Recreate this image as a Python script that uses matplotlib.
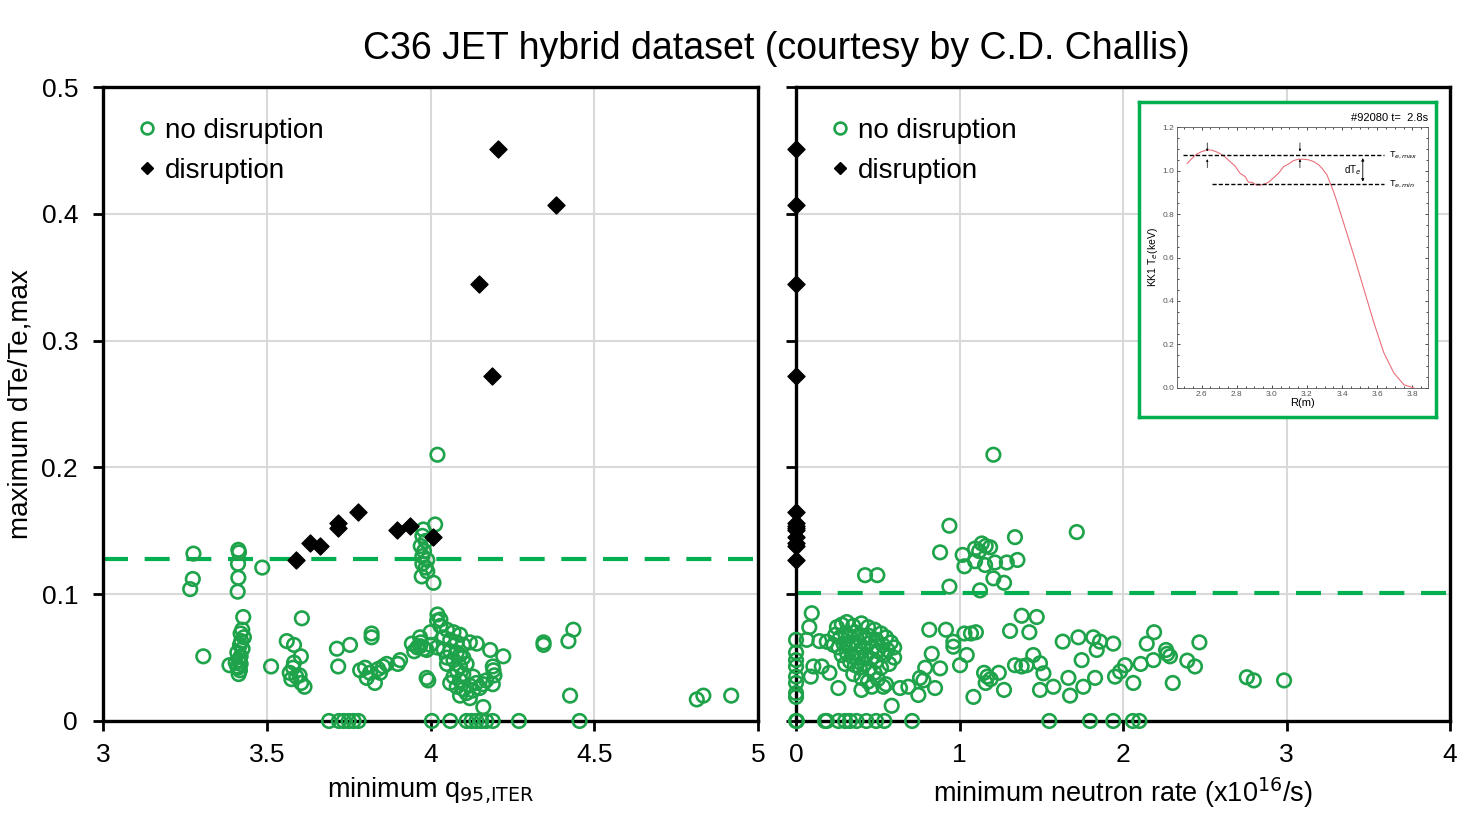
"""C36 JET hybrid dataset: dTe/Te,max vs q95 and neutron rate."""

import matplotlib
matplotlib.use("Agg")
import matplotlib.pyplot as plt
from matplotlib.lines import Line2D

plt.rcParams["font.family"] = ["Liberation Sans", "DejaVu Sans"]

GREEN = "#1ea34a"
DASH_GREEN = "#00b050"
GRID = "#d9d9d9"

# --- left panel: minimum q95,ITER ---
q95_ok = [
    3.276, 3.274, 3.266, 3.306,
    3.413, 3.415, 3.412, 3.413, 3.411, 3.428, 3.425, 3.420, 3.430, 3.422, 3.418, 3.426, 3.410,
    3.420, 3.415, 3.420, 3.412, 3.418, 3.414, 3.386, 3.405, 3.410, 3.486, 3.513,
    3.561, 3.583, 3.607, 3.604, 3.583, 3.570, 3.590, 3.600, 3.575, 3.605, 3.615, 3.580,
    3.714, 3.754, 3.718, 3.785, 3.815, 3.805, 3.830, 3.846, 3.855, 3.866, 3.900, 3.907,
    3.820, 3.820, 3.800, 3.840,
    3.690, 3.720, 3.735, 3.750, 3.765, 3.780,
    4.021, 4.014, 3.978, 3.975, 3.985, 3.970, 3.980, 3.975, 3.990, 3.975, 3.985, 3.990,
    3.973, 4.009,
    4.021, 4.020, 4.030, 4.050, 4.070, 4.090, 4.000, 4.040, 4.060, 4.080, 4.100, 3.943,
    3.960, 3.980, 3.950, 3.970, 4.000, 4.020, 4.040, 4.060, 4.080, 4.090, 4.100, 4.070,
    4.050, 4.110, 4.090, 4.080, 4.100, 4.070, 4.090, 4.060, 4.080, 4.100, 4.120, 4.140,
    4.160, 4.150, 4.130, 4.110, 4.090, 4.120, 4.170, 4.161, 3.988, 3.993, 4.141, 4.182,
    4.222, 4.190, 4.192, 4.195, 4.190, 4.130, 4.030, 4.120, 4.050, 3.968, 3.968, 3.988,
    4.004, 4.060, 4.110, 4.125, 4.140, 4.155, 4.170, 4.190, 4.270,
    4.345, 4.345, 4.421, 4.436, 4.426, 4.455, 4.813, 4.833, 4.918,
]
dte_ok_q = [
    0.132, 0.112, 0.104, 0.051,
    0.135, 0.133, 0.124, 0.113, 0.102, 0.082, 0.072, 0.069, 0.066, 0.063, 0.060, 0.057, 0.054,
    0.051, 0.048, 0.045, 0.042, 0.040, 0.037, 0.044, 0.046, 0.043, 0.121, 0.043,
    0.063, 0.060, 0.081, 0.051, 0.046, 0.038, 0.035, 0.036, 0.033, 0.030, 0.027, 0.042,
    0.057, 0.060, 0.043, 0.040, 0.038, 0.034, 0.030, 0.038, 0.043, 0.045, 0.045, 0.048,
    0.069, 0.066, 0.042, 0.041,
    0.0, 0.0, 0.0, 0.0, 0.0, 0.0,
    0.210, 0.155, 0.151, 0.146, 0.142, 0.138, 0.134, 0.130, 0.127, 0.124, 0.121, 0.118,
    0.114, 0.109,
    0.084, 0.079, 0.075, 0.072, 0.070, 0.068, 0.070, 0.066, 0.064, 0.062, 0.060, 0.061,
    0.058, 0.057, 0.055, 0.062, 0.060, 0.058, 0.056, 0.055, 0.054, 0.052, 0.050, 0.048,
    0.050, 0.045, 0.043, 0.040, 0.037, 0.035, 0.032, 0.030, 0.027, 0.025, 0.028, 0.030,
    0.029, 0.026, 0.024, 0.022, 0.020, 0.018, 0.032, 0.011, 0.034, 0.032, 0.061, 0.056,
    0.051, 0.043, 0.040, 0.036, 0.029, 0.035, 0.080, 0.062, 0.045, 0.066, 0.059, 0.056,
    0.0, 0.0, 0.0, 0.0, 0.0, 0.0, 0.0, 0.0, 0.0,
    0.062, 0.060, 0.063, 0.072, 0.020, 0.0, 0.017, 0.020, 0.020,
]
q95_dis = [4.206, 4.383, 4.148, 4.188, 3.589, 3.632, 3.663, 3.718, 3.718, 3.779, 3.898, 3.937, 4.008]
dte_dis = [0.451, 0.407, 0.345, 0.272, 0.127, 0.140, 0.138, 0.156, 0.152, 0.165, 0.151, 0.154, 0.145]

# --- right panel: minimum neutron rate (x1e16/s) ---
rn_ok = [
    0.0, 0.0, 0.0, 0.0, 0.0, 0.0, 0.0, 0.0,
    0.0, 0.005, 0.177, 0.188, 0.259, 0.30, 0.33, 0.37, 0.43, 0.49, 0.54, 0.71,
    1.549, 1.798, 1.94, 2.06, 2.10,
    0.096, 0.081, 0.065, 0.143, 0.188, 0.106, 0.157, 0.204, 0.090,
    0.25, 0.28, 0.31, 0.35, 0.40, 0.44, 0.48, 0.52, 0.55, 0.58, 0.60, 0.24, 0.27, 0.30,
    0.33, 0.36, 0.39, 0.42, 0.45, 0.49, 0.53, 0.56, 0.23, 0.26, 0.29, 0.32, 0.35, 0.38,
    0.41, 0.44, 0.47, 0.50, 0.54, 0.28, 0.31, 0.34, 0.37, 0.40, 0.43, 0.46, 0.49, 0.30,
    0.33, 0.36, 0.39, 0.42, 0.45, 0.48, 0.52, 0.35, 0.40, 0.44, 0.50, 0.55, 0.57, 0.60,
    0.259, 0.40, 0.463, 0.534, 0.585,
    0.636, 0.687, 0.748, 0.779, 0.850, 0.830, 0.881, 0.815, 0.917, 0.962, 0.962, 1.03,
    1.07, 1.10, 1.044, 1.003, 1.085, 1.15, 1.17, 1.19, 1.24, 1.16, 1.272, 1.309, 1.380,
    1.472, 1.427, 1.339, 1.38, 1.41, 1.451, 1.492, 1.513, 1.574, 1.492, 1.631, 1.727,
    1.818, 1.859, 1.839, 1.747, 1.666, 1.676, 1.757, 1.829, 1.94, 1.951, 1.982, 2.012,
    2.063, 2.108, 2.186, 2.145, 2.19, 2.263, 2.27, 2.287, 2.304, 2.393, 2.44, 2.467,
    2.757, 2.80, 2.985, 0.758, 0.79,
    1.207, 0.938, 0.881, 1.717, 1.339, 0.422, 0.497, 0.938, 1.125, 1.019, 1.030, 1.095,
    1.136, 1.187, 1.12, 1.095, 1.156, 1.217, 1.289, 1.354, 1.207, 1.272, 1.16,
]
dte_ok_n = [
    0.064, 0.054, 0.043, 0.030, 0.022, 0.019, 0.035, 0.048,
    0.0, 0.0, 0.0, 0.0, 0.0, 0.0, 0.0, 0.0, 0.0, 0.0, 0.0, 0.0,
    0.0, 0.0, 0.0, 0.0, 0.0,
    0.085, 0.074, 0.064, 0.063, 0.0625, 0.043, 0.043, 0.038, 0.035,
    0.074, 0.076, 0.078, 0.075, 0.077, 0.074, 0.072, 0.069, 0.066, 0.062, 0.058, 0.068,
    0.066, 0.069, 0.067, 0.070, 0.068, 0.066, 0.067, 0.064, 0.060, 0.056, 0.060, 0.058,
    0.061, 0.059, 0.062, 0.060, 0.058, 0.061, 0.058, 0.055, 0.052, 0.052, 0.054, 0.051,
    0.053, 0.050, 0.052, 0.049, 0.047, 0.045, 0.047, 0.044, 0.042, 0.045, 0.041, 0.038,
    0.042, 0.037, 0.034, 0.031, 0.033, 0.029, 0.045, 0.050,
    0.026, 0.0245, 0.027, 0.027, 0.012,
    0.026, 0.027, 0.0205, 0.032, 0.026, 0.053, 0.0415, 0.072, 0.072, 0.0625, 0.0586, 0.069,
    0.069, 0.070, 0.052, 0.044, 0.019, 0.038, 0.035, 0.033, 0.038, 0.030, 0.0245, 0.071,
    0.083, 0.082, 0.070, 0.044, 0.043, 0.044, 0.052, 0.0455, 0.0376, 0.027, 0.0245,
    0.0626, 0.066, 0.066, 0.0626, 0.056, 0.048, 0.034, 0.020, 0.027, 0.034, 0.061, 0.035,
    0.039, 0.044, 0.030, 0.045, 0.048, 0.061, 0.070, 0.056, 0.053, 0.051, 0.030, 0.0476,
    0.043, 0.062, 0.0345, 0.032, 0.032, 0.034, 0.042,
    0.210, 0.154, 0.133, 0.149, 0.145, 0.115, 0.115, 0.106, 0.103, 0.131, 0.122, 0.136,
    0.140, 0.137, 0.134, 0.126, 0.123, 0.125, 0.125, 0.127, 0.1125, 0.109, 0.138,
]
rn_dis = [0.0] * len(dte_dis)

threshold_q = 0.128
threshold_n = 0.101

# --- inset: KK1 Te profile, #92080 t=2.8s ---
prof_r = [2.518, 2.543, 2.571, 2.60, 2.632, 2.657, 2.69, 2.724, 2.762, 2.79, 2.819, 2.848,
          2.867, 2.886, 2.914, 2.933, 2.952, 2.981, 3.01, 3.038, 3.067, 3.095, 3.124, 3.152,
          3.181, 3.21, 3.238, 3.267, 3.286, 3.314, 3.333, 3.352, 3.371, 3.419, 3.467, 3.524,
          3.581, 3.638, 3.695, 3.752, 3.81]
prof_te = [1.033, 1.054, 1.075, 1.087, 1.095, 1.094, 1.084, 1.069, 1.041, 1.021, 0.987, 0.972,
           0.946, 0.946, 0.933, 0.933, 0.936, 0.946, 0.967, 0.987, 1.018, 1.030, 1.046, 1.052,
           1.052, 1.049, 1.041, 1.026, 1.010, 0.980, 0.941, 0.902, 0.856, 0.733, 0.609, 0.455,
           0.301, 0.162, 0.069, 0.015, 0.0]
te_max = 1.07
te_min = 0.936


def style_main(ax, xlim, xticks, show_ylabels):
    ax.set_xlim(*xlim)
    ax.set_ylim(0, 0.5)
    ax.set_xticks(xticks)
    ax.set_yticks([0, 0.1, 0.2, 0.3, 0.4, 0.5])
    ax.set_xticklabels([f"{t:g}" for t in xticks])
    if show_ylabels:
        ax.set_yticklabels(["0", "0.1", "0.2", "0.3", "0.4", "0.5"])
    else:
        ax.set_yticklabels([])
    ax.tick_params(axis="both", direction="out", length=7, width=2, colors="black",
                   labelsize=19, pad=11)
    ax.tick_params(axis="x", pad=9)
    ax.grid(True, color=GRID, lw=1.5)
    ax.set_axisbelow(True)
    for s in ax.spines.values():
        s.set_linewidth(2.4)
        s.set_color("black")


fig = plt.figure(figsize=(14.62, 8.18), dpi=100)
ax1 = fig.add_axes([0.0705, 0.1186, 0.448, 0.775])
ax2 = fig.add_axes([0.5445, 0.1186, 0.4473, 0.775])

for ax, xs, ys, xd, thr in [(ax1, q95_ok, dte_ok_q, q95_dis, threshold_q),
                            (ax2, rn_ok, dte_ok_n, rn_dis, threshold_n)]:
    ax.scatter(xs, ys, s=95, facecolors="none", edgecolors=GREEN, linewidths=1.9,
               zorder=3, clip_on=False)
    ax.scatter(xd, dte_dis, s=75, marker="D", color="black", zorder=4, clip_on=False)
    ax.axhline(thr, color=DASH_GREEN, lw=3, dashes=(6, 4), zorder=2)
    handles = [
        Line2D([], [], ls="none", marker="o", mfc="none", mec=GREEN, mew=1.9, ms=8.5),
        Line2D([], [], ls="none", marker="D", color="black", ms=6.5),
    ]
    ax.legend(handles, ["no disruption", "disruption"], loc="upper left", frameon=False,
              fontsize=20, handletextpad=0.05, handlelength=1.2, labelspacing=0.5,
              borderaxespad=0.9, bbox_to_anchor=(-0.014, 1.008))

style_main(ax1, (3, 5), [3, 3.5, 4, 4.5, 5], True)
style_main(ax2, (0, 4), [0, 1, 2, 3, 4], False)

ax1.set_xlabel(r"minimum q$_{95{,}\mathrm{ITER}}$", fontsize=19.5, labelpad=6)
ax2.set_xlabel(r"minimum neutron rate (x10$^{16}$/s)", fontsize=19.5, labelpad=6)
ax1.set_ylabel("maximum dTe/Te,max", fontsize=20, labelpad=6)
fig.suptitle("C36 JET hybrid dataset (courtesy by C.D. Challis)", fontsize=27,
             x=0.531, y=0.962)

# inset frame (green box) and profile
box = fig.add_axes([0.779, 0.4902, 0.2031, 0.385])
box.set_xticks([])
box.set_yticks([])
box.set_zorder(5)
for s in box.spines.values():
    s.set_color(DASH_GREEN)
    s.set_linewidth(2.5)
box.text(0.975, 0.965, "#92080 t=  2.8s", transform=box.transAxes, ha="right", va="top", fontsize=8)

ins = fig.add_axes([0.8051, 0.5257, 0.1717, 0.319])
ins.set_zorder(6)
ins.plot(prof_r, prof_te, color="#e8707a", lw=0.8)
ins.plot([2.495, 3.638], [te_max, te_max], color="black", lw=1.0, ls=(0, (3, 1.5)))
ins.plot([2.657, 3.638], [te_min, te_min], color="black", lw=1.0, ls=(0, (3, 1.5)))
ins.annotate("", xy=(3.518, te_min), xytext=(3.518, te_max),
             arrowprops=dict(arrowstyle="<|-|>", lw=0.6, color="black", mutation_scale=4))
ins.text(3.46, 1.0, r"dT$_e$", fontsize=7, ha="center", va="center")
ins.text(3.667, te_max, r"T$_{e,max}$", fontsize=6.5, ha="left", va="center")
ins.text(3.667, te_min, r"T$_{e,min}$", fontsize=6.5, ha="left", va="center")
for xa in (2.632, 3.16):
    ins.annotate("", xy=(xa, te_max + 0.005), xytext=(xa, te_max + 0.07),
                 arrowprops=dict(arrowstyle="-|>", lw=0.5, color="black", mutation_scale=3))
    ins.annotate("", xy=(xa, te_max - 0.005), xytext=(xa, te_max - 0.07),
                 arrowprops=dict(arrowstyle="-|>", lw=0.5, color="black", mutation_scale=3))
ins.set_xlim(2.46, 3.89)
ins.set_ylim(0, 1.2)
ins.set_xticks([2.6, 2.8, 3.0, 3.2, 3.4, 3.6, 3.8])
ins.set_yticks([0.0, 0.2, 0.4, 0.6, 0.8, 1.0, 1.2])
ins.set_xticklabels(["2.6", "2.8", "3.0", "3.2", "3.4", "3.6", "3.8"])
ins.set_yticklabels(["0.0", "0.2", "0.4", "0.6", "0.8", "1.0", "1.2"])
ins.minorticks_on()
ins.tick_params(which="both", direction="in", top=True, right=True, labelsize=6,
                labelcolor="#555555", width=0.5, length=2.5, pad=2)
ins.tick_params(which="minor", length=1.5)
for s in ins.spines.values():
    s.set_linewidth(0.6)
    s.set_color("#555555")
ins.set_xlabel("R(m)", fontsize=8, labelpad=0)
ins.set_ylabel(r"KK1 T$_e$(keV)", fontsize=7.5, labelpad=2)

fig.savefig("out.png", dpi=100)
